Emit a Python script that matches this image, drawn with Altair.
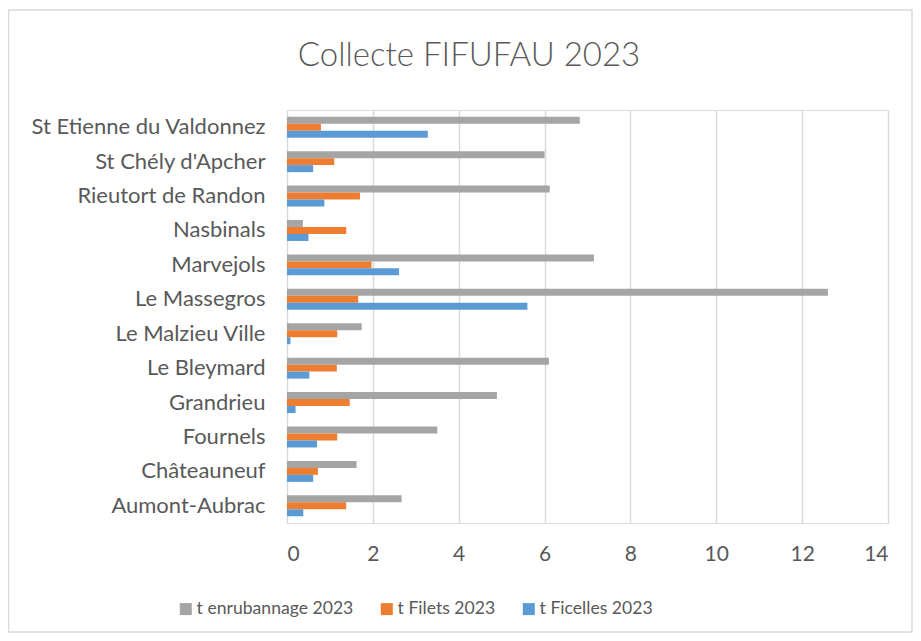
import altair as alt
import pandas as pd

categories = ["St Etienne du Valdonnez", "St Chély d'Apcher", "Rieutort de Randon", "Nasbinals",
              "Marvejols", "Le Massegros", "Le Malzieu Ville", "Le Bleymard", "Grandrieu",
              "Fournels", "Châteauneuf", "Aumont-Aubrac"]
series = ["t enrubannage 2023", "t Filets 2023", "t Ficelles 2023"]
enrubannage = [6.82, 6.00, 6.12, 0.37, 7.15, 12.60, 1.74, 6.10, 4.89, 3.50, 1.62, 2.67]
filets = [0.79, 1.10, 1.70, 1.38, 1.97, 1.66, 1.17, 1.16, 1.46, 1.17, 0.72, 1.38]
ficelles = [3.28, 0.61, 0.87, 0.50, 2.61, 5.60, 0.08, 0.52, 0.20, 0.70, 0.61, 0.38]
colors = ["#A5A5A5", "#ED7D31", "#5B9BD5"]
ticks = [0, 2, 4, 6, 8, 10, 12, 14]
title_text = ["Collecte FIFUFAU 2023"]

rows = []
for s, vals in zip(series, [enrubannage, filets, ficelles]):
    for c, v in zip(categories, vals):
        rows.append({"commune": c, "serie": s, "valeur": v})
df = pd.DataFrame(rows)

FONT = "Lato"
TXT = "#595959"

bars = alt.Chart(df).mark_bar().encode(
    y=alt.Y("commune:N", sort=categories, title=None,
            scale=alt.Scale(paddingInner=0.39, paddingOuter=0.195),
            axis=alt.Axis(ticks=False, domain=False, labelPadding=22, labelFontSize=22,
                          labelFont=FONT, labelColor=TXT, labelLimit=400)),
    yOffset=alt.YOffset("serie:N", sort=series, scale=alt.Scale(paddingInner=0, paddingOuter=0)),
    x=alt.X("valeur:Q", title=None, scale=alt.Scale(domain=[0, 14], nice=False),
            axis=alt.Axis(values=ticks, ticks=False, domain=False, grid=True, gridColor="#D9D9D9",
                          gridWidth=1.5, labelPadding=20, labelFontSize=21, labelFont=FONT,
                          labelColor=TXT)),
    color=alt.Color("serie:N", sort=series, scale=alt.Scale(domain=series, range=colors),
                    legend=alt.Legend(title=None, orient="none", legendX=-110, legendY=490,
                                      direction="horizontal", symbolType="square", symbolSize=144,
                                      symbolStrokeWidth=0, labelFontSize=17.6, labelFont=FONT,
                                      labelColor=TXT, columnPadding=24, labelOffset=2,
                                      labelLimit=300)),
)

title = alt.Chart(pd.DataFrame({"t": title_text})).mark_text(
    font=FONT, fontSize=33, fontWeight=300, color=TXT, align="center", baseline="middle"
).encode(text="t:N", x=alt.value(182), y=alt.value(-54))

border = alt.Chart(pd.DataFrame({"a": [0]})).mark_rect(fill=None, stroke="#D9D9D9", strokeWidth=1.5).encode(
    x=alt.value(-278.5), x2=alt.value(625), y=alt.value(-100), y2=alt.value(522)
)

chart = alt.layer(border, title, bars).properties(
    width=601, height=413,
    autosize=alt.AutoSizeParams(type="none"),
    padding={"left": 279, "top": 102, "right": 25, "bottom": 110},
).configure_view(stroke=None).configure(background="white")

chart.save("out.html", embed_options={"renderer": "svg", "actions": False})
